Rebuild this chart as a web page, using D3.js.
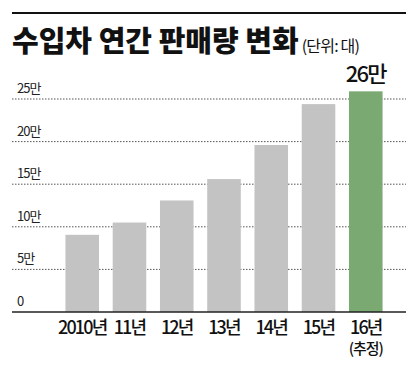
<!DOCTYPE html>
<html>
<head>
<meta charset="utf-8">
<script src="https://cdn.jsdelivr.net/npm/d3@7"></script>
<style>
  html, body { margin: 0; padding: 0; background: #fff; }
  svg { display: block; }
</style>
</head>
<body>
<div id="chart"></div>
<script>
// -----------------------------
// DATA (unit: 만 대)
// -----------------------------
const YEARS = ["2010년", "11년", "12년", "13년", "14년", "15년", "16년"];
const SALES = [9.06, 10.5, 13.09, 15.6, 19.6, 24.4, 25.9];
const TICKS = [0, 5, 10, 15, 20, 25];
const TICK_LABELS = ["0", "5만", "10만", "15만", "20만", "25만"];
const LAST_LABEL = "26만";
const LAST_NOTE = "(추정)";

const W = 416, H = 372;
const FONT = "'Noto Sans CJK KR', 'Noto Sans', sans-serif";

const svg = d3.select("#chart").append("svg")
  .attr("width", W)
  .attr("height", H)
  .style("font-family", FONT);

// top rule
svg.append("line")
  .attr("x1", 12).attr("x2", 406)
  .attr("y1", 13).attr("y2", 13)
  .attr("stroke", "#111").attr("stroke-width", 2.2);

// title
const title = svg.append("text")
  .attr("x", 12).attr("y", 52)
  .attr("fill", "#111");
title.append("tspan")
  .attr("font-size", 29).attr("font-weight", 900)
  .attr("letter-spacing", 0)
  .text("수입차 연간 판매량 변화");
title.append("tspan")
  .attr("dx", 3)
  .attr("font-size", 16).attr("font-weight", 400)
  .attr("letter-spacing", -0.8)
  .text("(단위: 대)");

// -----------------------------
// SCALES
// -----------------------------
const x = d3.scaleBand()
  .domain(YEARS)
  .range([56, 392])
  .paddingInner(0.29)
  .paddingOuter(0.2);

const y = d3.scaleLinear()
  .domain([0, 25])
  .range([312, 99]);

// gridlines
svg.append("g")
  .selectAll("line")
  .data(TICKS.slice(1))
  .join("line")
  .attr("x1", 12).attr("x2", 406)
  .attr("y1", d => y(d)).attr("y2", d => y(d))
  .attr("stroke", "#555")
  .attr("stroke-width", 1)
  .attr("stroke-dasharray", "1.5,1.5");

// y labels
svg.append("g")
  .selectAll("text")
  .data(TICKS)
  .join("text")
  .attr("x", 17)
  .attr("y", d => y(d) - 6)
  .attr("font-size", 13)
  .attr("letter-spacing", -1)
  .attr("fill", "#222")
  .text((d, i) => TICK_LABELS[i]);

// bars
svg.append("g")
  .selectAll("rect")
  .data(SALES)
  .join("rect")
  .attr("x", (d, i) => x(YEARS[i]))
  .attr("width", x.bandwidth())
  .attr("y", d => y(d))
  .attr("height", d => y(0) - y(d))
  .attr("fill", (d, i) => i === SALES.length - 1 ? "#7aaa72" : "#c3c3c3");

// baseline
svg.append("line")
  .attr("x1", 12).attr("x2", 406)
  .attr("y1", y(0)).attr("y2", y(0))
  .attr("stroke", "#222").attr("stroke-width", 1.5);

// x labels
svg.append("g")
  .selectAll("text")
  .data(YEARS)
  .join("text")
  .attr("x", d => x(d) + x.bandwidth() / 2)
  .attr("y", 334)
  .attr("text-anchor", "middle")
  .attr("font-size", 18)
  .attr("font-weight", 500)
  .attr("letter-spacing", -1.8)
  .attr("fill", "#111")
  .text(d => d);

const last = YEARS[YEARS.length - 1];
svg.append("text")
  .attr("x", x(last) + x.bandwidth() / 2)
  .attr("y", 354)
  .attr("text-anchor", "middle")
  .attr("font-size", 15)
  .attr("font-weight", 500)
  .attr("letter-spacing", -1)
  .attr("fill", "#111")
  .text(LAST_NOTE);

// value label on last bar
svg.append("text")
  .attr("x", x(last) + x.bandwidth() / 2)
  .attr("y", y(SALES[SALES.length - 1]) - 9)
  .attr("text-anchor", "middle")
  .attr("font-size", 22)
  .attr("font-weight", 500)
  .attr("letter-spacing", -1.8)
  .attr("fill", "#111")
  .text(LAST_LABEL);
</script>
</body>
</html>
